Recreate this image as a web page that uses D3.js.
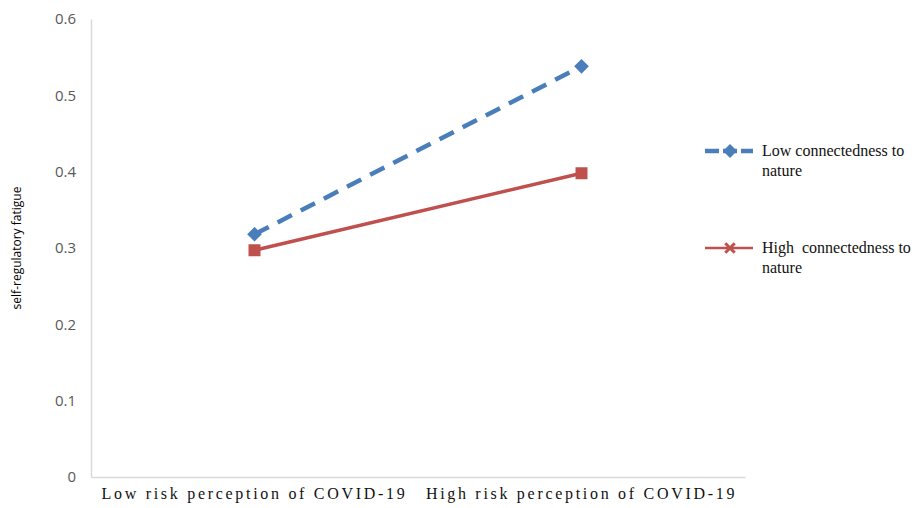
<!DOCTYPE html>
<html>
<head>
<meta charset="utf-8">
<script src="https://cdn.jsdelivr.net/npm/d3@7"></script>
<style>
  body { margin: 0; background: #fff; }
</style>
</head>
<body>
<script>
// Data
const categories = ["Low risk perception of COVID-19", "High risk perception of COVID-19"];
const seriesNames = ["Low connectedness to nature", "High  connectedness to nature"];
const lowConnectedness = [0.318, 0.538];
const highConnectedness = [0.297, 0.398];
const yTicks = [0, 0.1, 0.2, 0.3, 0.4, 0.5, 0.6];

const width = 917, height = 508;
const margin = { left: 91, right: 172, top: 19, bottom: 31 };

const svg = d3.select("body").append("svg")
    .attr("width", width)
    .attr("height", height);

const x = d3.scaleBand()
    .domain(categories)
    .range([margin.left, width - margin.right]);

const y = d3.scaleLinear()
    .domain([0, 0.6])
    .range([height - margin.bottom, margin.top]);

// Y axis
const yAxis = svg.append("g")
    .attr("transform", `translate(${margin.left},0)`)
    .call(d3.axisLeft(y).tickValues(yTicks).tickSize(0).tickPadding(15)
        .tickFormat(d => d === 0 ? "0" : d3.format(".1f")(d)));
yAxis.select(".domain").attr("stroke", "#d9d9d9").attr("stroke-width", 1.5);
yAxis.selectAll("text")
    .attr("fill", "#595959")
    .style("font-family", "'Open Sans', 'Noto Sans', sans-serif")
    .style("font-size", "15px");

// X axis
const xAxis = svg.append("g")
    .attr("transform", `translate(0,${height - margin.bottom})`)
    .call(d3.axisBottom(x).tickSize(0).tickPadding(11));
xAxis.select(".domain").attr("stroke", "#d9d9d9").attr("stroke-width", 1.5);
xAxis.selectAll("text")
    .attr("fill", "#111")
    .style("font-family", "'Liberation Serif', 'Times New Roman', serif")
    .style("font-size", "16px")
    .style("letter-spacing", "2.7px");

// Y axis title
svg.append("text")
    .attr("transform", `translate(21,${(margin.top + height - margin.bottom) / 2}) rotate(-90)`)
    .attr("text-anchor", "middle")
    .style("font-family", "'Open Sans', 'Noto Sans', sans-serif")
    .style("font-size", "12px")
    .attr("fill", "#000")
    .text("self-regulatory fatigue");

const blue = "#4a7ebb", red = "#c0504d";
const cx = d => x(d) + x.bandwidth() / 2;

const line = d3.line()
    .x((d, i) => cx(categories[i]))
    .y(d => y(d));

// Low connectedness (dashed blue, diamonds)
svg.append("path")
    .datum(lowConnectedness)
    .attr("d", line)
    .attr("fill", "none")
    .attr("stroke", blue)
    .attr("stroke-width", 4.5)
    .attr("stroke-dasharray", "16,10");

svg.append("g").selectAll("path")
    .data(lowConnectedness)
    .join("path")
    .attr("transform", (d, i) => `translate(${cx(categories[i])},${y(d)})`)
    .attr("d", d3.symbol(d3.symbolDiamond2, 90))
    .attr("fill", blue)
    .attr("stroke", blue)
    .attr("stroke-width", 2);

// High connectedness (solid red, squares)
svg.append("path")
    .datum(highConnectedness)
    .attr("d", line)
    .attr("fill", "none")
    .attr("stroke", red)
    .attr("stroke-width", 3.5);

svg.append("g").selectAll("path")
    .data(highConnectedness)
    .join("path")
    .attr("transform", (d, i) => `translate(${cx(categories[i])},${y(d)})`)
    .attr("d", d3.symbol(d3.symbolSquare, 100))
    .attr("fill", red)
    .attr("stroke", red)
    .attr("stroke-width", 2);

// Legend
const legend = svg.append("g");
const legendRows = [
    { name: seriesNames[0], color: blue, dash: "14,4", width: 4.5, symbol: d3.symbolDiamond2, y: 151 },
    { name: seriesNames[1], color: red, dash: null, width: 2.5, symbol: d3.symbolTimes, y: 248 }
];
legendRows.forEach(r => {
    legend.append("line")
        .attr("x1", 705).attr("x2", 753)
        .attr("y1", r.y).attr("y2", r.y)
        .attr("stroke", r.color)
        .attr("stroke-width", r.width)
        .attr("stroke-dasharray", r.dash);
    legend.append("path")
        .attr("transform", `translate(730,${r.y})`)
        .attr("d", d3.symbol(r.symbol, 60))
        .attr("fill", r.color)
        .attr("stroke", r.color)
        .attr("stroke-width", 3);
    const words = r.name.split(" ");
    const t = legend.append("text")
        .attr("x", 762).attr("y", r.y + 5)
        .style("font-family", "'Liberation Serif', 'Times New Roman', serif")
        .style("font-size", "16px")
        .style("white-space", "pre")
        .attr("fill", "#111");
    t.append("tspan").attr("x", 762).text(words.slice(0, -1).join(" "));
    t.append("tspan").attr("x", 762).attr("dy", 20).text(words[words.length - 1]);
});
</script>
</body>
</html>
